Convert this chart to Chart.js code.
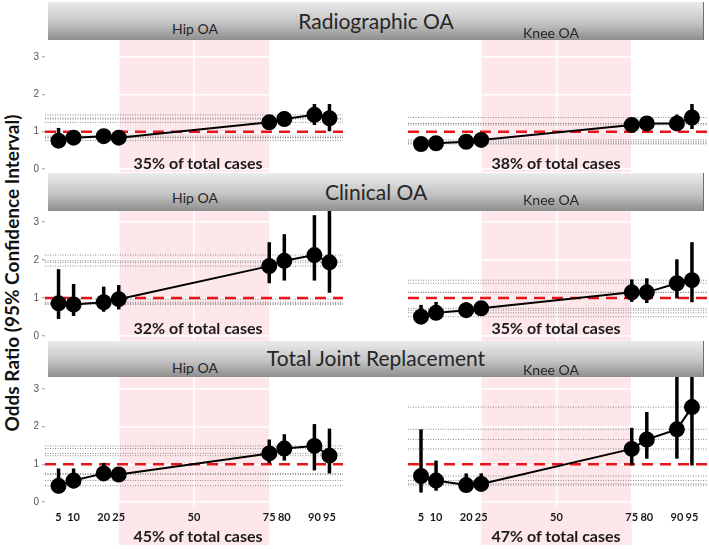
<!DOCTYPE html>
<html>
<head>
<meta charset="utf-8">
<script src="https://cdn.jsdelivr.net/npm/chart.js@4.4.1/dist/chart.umd.min.js"></script>
<style>
body{margin:0;width:709px;height:549px;position:relative;overflow:hidden;background:#fff;font-family:Lato,"Open Sans",sans-serif}
canvas{position:absolute}
.hdr{position:absolute;left:48px;width:655px;background:linear-gradient(#ebebeb,#c4c4c4 55%,#8e8e8e);border-right:1px solid #6f6f6f}
.txt{position:absolute;transform:translate(-50%,-50%);white-space:nowrap;color:#262626}
.big{font-size:21px}
.sub{font-size:14px}
.cases{font-size:16px;font-weight:bold;color:#1a1a1a}
#ytitle{position:absolute;left:11px;top:273px;transform:translate(-50%,-50%) rotate(-90deg);font-size:19px;font-weight:bold;white-space:nowrap;color:#111}
</style>
</head>
<body>

<div id="ytitle">Odds Ratio (95% Confidence Interval)</div>

<script>
// 데이터
const pct = [5, 10, 20, 25, 75, 80, 90, 95];          // percentile (x)
const xTicks = [5, 10, 20, 25, 50, 75, 80, 90, 95];
const yTicks = [0, 1, 2, 3];
const shade = [25, 75];                               // pink band
const refLine = 1;

const rowTitles = ['Radiographic OA', 'Clinical OA', 'Total Joint Replacement'];
const colTitles = ['Hip OA', 'Knee OA'];
const caseLabels = [
  ['35% of total cases', '38% of total cases'],
  ['32% of total cases', '35% of total cases'],
  ['45% of total cases', '47% of total cases']
];

// Radiographic OA
const radHipOR = [0.76, 0.84, 0.88, 0.84, 1.25, 1.34, 1.45, 1.36];
const radHipLo = [0.60, 0.72, 0.78, 0.74, 1.10, 1.15, 1.18, 1.01];
const radHipHi = [1.10, 0.96, 0.98, 0.95, 1.40, 1.55, 1.74, 1.74];
const radKneeOR = [0.67, 0.69, 0.73, 0.78, 1.18, 1.22, 1.22, 1.38];
const radKneeLo = [0.52, 0.57, 0.62, 0.66, 1.06, 1.10, 1.03, 1.07];
const radKneeHi = [0.82, 0.82, 0.85, 0.90, 1.30, 1.34, 1.46, 1.74];

// Clinical OA
const clinHipOR = [0.86, 0.83, 0.89, 0.97, 1.84, 1.98, 2.13, 1.94];
const clinHipLo = [0.45, 0.53, 0.64, 0.70, 1.39, 1.46, 1.46, 1.14];
const clinHipHi = [1.76, 1.37, 1.30, 1.34, 2.47, 2.68, 3.18, 3.60];
const clinKneeOR = [0.51, 0.61, 0.68, 0.73, 1.15, 1.15, 1.39, 1.47];
const clinKneeLo = [0.34, 0.47, 0.55, 0.58, 0.90, 0.87, 0.99, 0.89];
const clinKneeHi = [0.82, 0.90, 0.89, 0.89, 1.49, 1.52, 2.02, 2.47];

// Total Joint Replacement
const tjrHipOR = [0.43, 0.57, 0.76, 0.73, 1.29, 1.42, 1.49, 1.23];
const tjrHipLo = [0.23, 0.36, 0.58, 0.58, 1.03, 1.10, 0.84, 0.76];
const tjrHipHi = [0.89, 0.89, 1.04, 0.88, 1.66, 1.80, 2.07, 1.95];
const tjrKneeOR = [0.69, 0.57, 0.45, 0.48, 1.41, 1.66, 1.93, 2.52];
const tjrKneeLo = [0.25, 0.30, 0.32, 0.34, 0.97, 1.15, 1.15, 0.97];
const tjrKneeHi = [1.93, 1.10, 0.76, 0.76, 1.97, 2.39, 3.40, 3.60];

const series = [
  [[radHipOR, radHipLo, radHipHi], [radKneeOR, radKneeLo, radKneeHi]],
  [[clinHipOR, clinHipLo, clinHipHi], [clinKneeOR, clinKneeLo, clinKneeHi]],
  [[tjrHipOR, tjrHipLo, tjrHipHi], [tjrKneeOR, tjrKneeLo, tjrKneeHi]]
];

// 레이아웃 (픽셀)
const hdrBox = [[2, 38], [173, 38], [341, 36]];          // top, height
const rowBox = [[40, 132], [211, 130], [377, 172]];      // canvas top, height
const rowY = [[-0.08, 3.455], [-0.13, 3.29], [-0.106, 3.32]];
const colBox = [{left: 0, width: 346, axisW: 45, padR: 3, xMin: 0.5, xMax: 99.5, center: 198},
                {left: 350, width: 359, axisW: 58, padR: 2, xMin: 0.68, xMax: 100, center: 556}];
const subY = [[28, 32], [197, 199], [367, 369]];
const bigY = [20, 191, 357];
const caseY = [162, 327, 535];

function addText(cls, text, x, y){
  const d = document.createElement('div');
  d.className = 'txt ' + cls;
  d.textContent = text;
  d.style.left = x + 'px';
  d.style.top = y + 'px';
  document.body.appendChild(d);
}

// 분홍 배경 영역
const shadePlugin = {
  id: 'shade',
  beforeDraw(chart){
    const x = chart.scales.x, ctx = chart.ctx;
    const a = x.getPixelForValue(shade[0]);
    const b = x.getPixelForValue(shade[1]);
    ctx.save();
    ctx.fillStyle = '#fde7ea';
    ctx.fillRect(a, 0, b - a, chart.height - (chart.options.bottomRow ? 4 : 0));
    ctx.restore();
  }
};

function buildSets(or, lo, hi, xMin, xMax){
  const sets = [];
  // 메인 라인 + 점
  sets.push({
    data: pct.map((p, i) => ({x: p, y: or[i]})),
    borderColor: '#000', backgroundColor: '#000', pointBackgroundColor: '#000',
    borderWidth: 2, pointRadius: 7, pointHoverRadius: 7, tension: 0
  });
  // 신뢰구간
  pct.forEach((p, i) => {
    sets.push({
      data: [{x: p, y: lo[i]}, {x: p, y: hi[i]}],
      borderColor: '#000', borderWidth: 3.5, pointRadius: 0, borderCapStyle: 'butt'
    });
  });
  // 기준선 1
  sets.push({
    data: [{x: xMin, y: refLine}, {x: xMax, y: refLine}],
    borderColor: '#e8141b', borderWidth: 2.5, borderDash: [11, 7], pointRadius: 0
  });
  // 점선 (각 OR 값)
  or.forEach(v => {
    sets.push({
      data: [{x: xMin, y: v}, {x: xMax, y: v}],
      borderColor: '#8c8c8c', borderWidth: 1, borderDash: [1, 1.5], pointRadius: 0
    });
  });
  return sets;
}

for (let r = 0; r < 3; r++){
  const h = document.createElement('div');
  h.className = 'hdr';
  h.style.top = hdrBox[r][0] + 'px';
  h.style.height = hdrBox[r][1] + 'px';
  document.body.appendChild(h);

  for (let c = 0; c < 2; c++){
    const col = colBox[c];
    const bottomRow = (r === 2);
    const cv = document.createElement('canvas');
    cv.width = col.width;
    cv.height = rowBox[r][1];
    cv.style.left = col.left + 'px';
    cv.style.top = rowBox[r][0] + 'px';
    document.body.appendChild(cv);

    const s = series[r][c];
    new Chart(cv, {
      type: 'line',
      data: {datasets: buildSets(s[0], s[1], s[2], col.xMin, col.xMax)},
      options: {
        bottomRow: bottomRow,
        responsive: false,
        animation: false,
        devicePixelRatio: 1,
        layout: {autoPadding: false, padding: {left: 0, right: col.padR, top: 0, bottom: 0}},
        plugins: {legend: {display: false}, tooltip: {enabled: false}},
        scales: {
          x: {
            type: 'linear', min: col.xMin, max: col.xMax,
            afterBuildTicks: sc => { sc.ticks = xTicks.map(v => ({value: v})); },
            afterFit: sc => {
              sc.height = bottomRow ? 43 : 0;
              sc.paddingLeft = 0; sc.paddingRight = 0;
            },
            grid: {color: '#ffffff', lineWidth: 1.5, drawTicks: false},
            border: {display: false},
            ticks: {
              display: bottomRow, padding: 5, color: '#1a1a1a', autoSkip: false, maxRotation: 0,
              font: {family: 'Lato', size: 11, weight: 'bold'},
              callback: v => v
            }
          },
          y: {
            type: 'linear', min: rowY[r][0], max: rowY[r][1],
            afterBuildTicks: sc => { sc.ticks = yTicks.map(v => ({value: v})); },
            afterFit: sc => {
              sc.width = col.axisW;
              sc.paddingTop = 0; sc.paddingBottom = 0;   // 눈금 라벨 여백 제거
            },
            grid: {color: '#ffffff', lineWidth: 1.5, tickLength: 3, tickColor: c === 0 ? '#9a9a9a' : 'rgba(0,0,0,0)', tickWidth: 1},
            border: {display: false},
            ticks: {
              display: c === 0, padding: 3, color: '#555555',
              font: {family: 'Liberation Sans', size: 10},
              callback: v => v
            }
          }
        }
      },
      plugins: [shadePlugin]
    });
  }
}

// 제목, 부제목, 퍼센트 라벨
for (let r = 0; r < 3; r++){
  addText('big', rowTitles[r], 376, bigY[r]);
  addText('sub', colTitles[0], 195, subY[r][0]);
  addText('sub', colTitles[1], 551, subY[r][1]);
  addText('cases', caseLabels[r][0], colBox[0].center, caseY[r]);
  addText('cases', caseLabels[r][1], colBox[1].center, caseY[r]);
}
</script>
</body>
</html>
